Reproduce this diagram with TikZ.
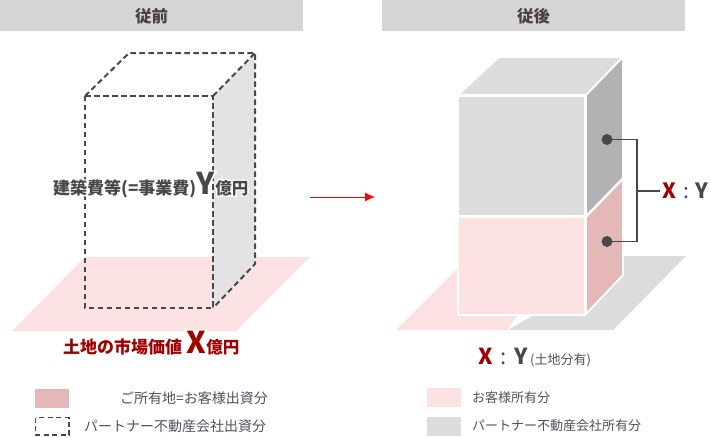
\documentclass[tikz,border=0pt]{standalone}
\usepackage{fontspec}
\usetikzlibrary{arrows.meta}
\setmainfont{Noto Sans CJK JP}
\definecolor{hdr}{HTML}{D5D5D5}
\definecolor{hdrtxt}{HTML}{4A4040}
\definecolor{pinkl}{HTML}{FDE2E3}
\definecolor{pinkd}{HTML}{E5B8B8}
\definecolor{greyl}{HTML}{DCDCDC}
\definecolor{greys}{HTML}{E3E3E3}
\definecolor{greyd}{HTML}{B2B2B2}
\definecolor{ink}{HTML}{484848}
\definecolor{legtxt}{HTML}{50505E}
\definecolor{dred}{HTML}{A00000}
\newcommand{\fs}[1]{\fontsize{#1}{#1}\selectfont}
\newcommand{\halo}[1]{\rlap{\special{pdf:code q 1 Tr 2.5 w 1 1 1 RG}#1\special{pdf:code 0 Tr Q}}#1}
\tikzset{
  header/.style={fill=hdr,draw=none},
  headtext/.style={inner sep=0pt,text=hdrtxt,font=\fs{16.5}\bfseries},
  dashline/.style={draw=ink,line width=2pt,dash pattern=on 5.5pt off 3.5pt},
  blockedge/.style={draw=white,line width=1.8pt,line join=miter},
  leader/.style={draw=ink,line width=1.8pt},
  legend/.style={inner sep=0pt,anchor=west,text=legtxt,font=\fs{13}},
  legendw/.style={legend,font=\fs{14}},
  sized/.style={inner sep=0pt,anchor=base west},
}
\begin{document}
\begin{tikzpicture}[x=1pt,y=-1pt]
\useasboundingbox (0,0) rectangle (711,437);
% headers
\path[header] (0,0) rectangle (303,31);
\path[header] (382,0) rectangle (685,31);
\node[headtext] (h1) at (151.5,16.5) {従前};
\node[headtext] (h2) at (533.5,16.5) {従後};
% before
\fill[pinkl] (85,257) -- (310,257) -- (236,331) -- (12,331) -- cycle;
\fill[greys] (213,96) -- (255,53) -- (255,264) -- (213,307) -- cycle;
\draw[dashline] (85,96) -- (213,96) -- (213,308) -- (85,308) -- cycle;
\draw[dashline] (85,96) -- (129,53) -- (255,53) -- (255,264) -- (213,308);
\draw[dashline] (213,96) -- (255,53);
\node[sized,text=ink] (t1) at (53,194) {\halo{\fs{17}\bfseries 建築費等(=事業費)}\hspace{0.5pt}\halo{\fs{30}\bfseries Y}\hspace{0.5pt}\halo{\fs{16.5}\bfseries 億円}};
\node[sized,text=dred] (t2) at (63,353) {\halo{\fs{17}\bfseries 土地の市場価値}\hspace{4pt}\halo{\fs{30}\bfseries X}\hspace{0.5pt}\halo{\fs{16.5}\bfseries 億円}};
% arrow
\coordinate (a1) at (310,197);
\coordinate (a2) at (375,197);
\draw[red,line width=0.9pt,-{Latex[length=10pt,width=9pt]}] (a1) -- (a2);
% after land
\fill[pinkl] (396,330) -- (470,256) -- (560,256) -- (507,330) -- cycle;
\fill[greyl] (508,330) -- (613,330) -- (686,256) -- (624,256) -- (560,300) -- cycle;
% block
\path[blockedge,fill=greyl] (458,95) -- (499,57) -- (623,57) -- (586,95) -- cycle;
\path[blockedge,fill=greyd] (586,95) -- (623,57) -- (623,178) -- (586,216) -- cycle;
\path[blockedge,fill=pinkd] (586,217) -- (623,179) -- (623,275) -- (586,314) -- cycle;
\path[blockedge,fill=greyl] (458,96) rectangle (585,216);
\path[blockedge,fill=pinkl] (458,217) rectangle (585,315);
% leaders
\node[circle,fill=ink,minimum size=11pt,inner sep=0pt] (d1) at (607,139.5) {};
\node[circle,fill=ink,minimum size=11pt,inner sep=0pt] (d2) at (607,241.5) {};
\coordinate (b1) at (637,191);
\draw[leader] (d1.center) -| (b1) |- (d2.center);
\node[sized] (r1) at (662,198.5) {\fs{21}\bfseries\textcolor{dred}{X}\hspace{7pt}{\mdseries\textcolor{ink}{:}}\hspace{7pt}\textcolor{ink}{Y}};
\coordinate (r1w) at (660,191);
\draw[leader] (b1) -- (r1w);
\node[sized] (r2) at (478,364) {\fs{22}\bfseries\textcolor{dred}{X}\hspace{8pt}{\mdseries\textcolor{ink}{:}}\hspace{8pt}\textcolor{ink}{Y}\hspace{2pt}{\fs{13}\mdseries\textcolor{legtxt}{(土地分有)}}};
% legends
\fill[pinkd] (35,389) rectangle (69,408);
\draw[ink,line width=1.8pt,dash pattern=on 5pt off 3.5pt] (35.5,417.5) rectangle (69,435);
\node[legendw] (l1) at (120,398) {ご所有地=お客様出資分};
\node[legendw] (l2) at (84,426) {パートナー不動産会社出資分};
\fill[pinkl] (427,388) rectangle (461,407);
\fill[greyl] (427,417) rectangle (461,436);
\node[legend] (l3) at (472,398) {お客様所有分};
\node[legend] (l4) at (472,426) {パートナー不動産会社所有分};
\end{tikzpicture}
\end{document}
